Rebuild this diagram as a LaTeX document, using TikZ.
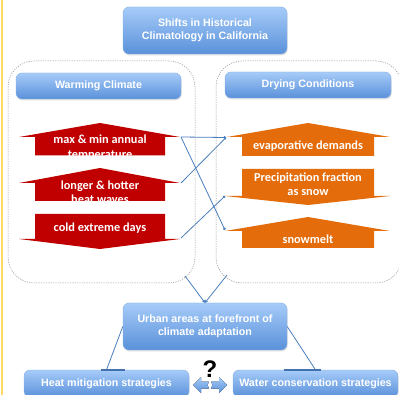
\documentclass[tikz,border=0pt]{standalone}
\usepackage{fontspec}
\setmainfont{Liberation Sans}
\newfontfamily\carl{Carlito}
\usetikzlibrary{arrows.meta,shadows}
\definecolor{boxtop}{HTML}{A6CBF8}
\definecolor{boxbot}{HTML}{5A91DA}
\definecolor{boxedge}{HTML}{86B0E8}
\definecolor{warmred}{HTML}{C00000}
\definecolor{dryorange}{HTML}{E46C0A}
\definecolor{linkblue}{HTML}{4A7EBF}
\definecolor{edgeyellow}{HTML}{FFD966}
\begin{document}
\begin{tikzpicture}[x=1pt,y=-1pt,
  bluebox/.style={rounded corners=6pt, top color=boxtop, bottom color=boxbot, draw=boxedge, line width=0.4pt,
    text=white, font=\fontsize{10.7}{13}\selectfont\bfseries, align=center, inner sep=0pt,
    drop shadow={opacity=0.25,shadow xshift=0.6pt,shadow yshift=-1.4pt}},
  container/.style={draw=gray!85, dash pattern=on 1.2pt off 1.2pt, rounded corners=26pt, line width=0.5pt, inner sep=0pt},
  arrowtext/.style={text=white, font=\carl\fontsize{12.3}{14.5}\selectfont\bfseries, align=center, inner sep=0pt},
  link/.style={draw=linkblue, line width=0.8pt},
  dotend/.style={-{Circle[length=2.6pt]}},
  bar/.style={draw=linkblue!90!black, line width=1.6pt},
]
\useasboundingbox (0,0) rectangle (399,395);
\fill[white] (0,0) rectangle (399,395);
\draw[edgeyellow, line width=2pt] (1.5,0) -- (1.5,395);

% containers
\node[container, minimum width=187pt, minimum height=222pt] (cl) at (101.5,172) {};
\node[container, minimum width=186pt, minimum height=222pt] (cr) at (309,172) {};

% boxes
\node[bluebox, minimum width=164pt, minimum height=47pt] (title) at (205,30.5) {Shifts in Historical\\Climatology in California};
\node[bluebox, minimum width=165pt, minimum height=26pt] (warm) at (98.5,86) {Warming Climate};
\node[bluebox, minimum width=166pt, minimum height=26pt] (dry) at (308,85) {Drying Conditions};
\node[bluebox, minimum width=164pt, minimum height=47pt] (urban) at (205,326.5) {Urban areas at forefront of\\climate adaptation};
\node[bluebox, minimum width=165pt, minimum height=27pt] (heat) at (106.5,383.5) {Heat mitigation strategies};
\node[bluebox, minimum width=165pt, minimum height=27pt] (water) at (315.5,383.5) {Water conservation strategies};

% red arrows
\fill[warmred] (19,137) -- (100,123) -- (180,137) -- (165,137) -- (165,155.5) -- (35,155.5) -- (35,137) -- cycle;
\node[arrowtext] (t1) at (100,147.5) {max \& min annual\\temperature};
\coordinate (r1) at (181,137);
\fill[warmred] (19,183) -- (100,168) -- (180,183) -- (165,183) -- (165,201) -- (35,201) -- (35,183) -- cycle;
\node[arrowtext] (t2) at (100,192) {longer \& hotter\\heat waves};
\coordinate (r2) at (181,183);
\fill[warmred] (35,214) -- (165,214) -- (165,239) -- (180,239) -- (100,249) -- (19,239) -- (35,239) -- cycle;
\node[arrowtext] (t3) at (100,228) {cold extreme days};
\coordinate (r3) at (181,238);

% orange arrows
\fill[dryorange] (227,137) -- (308,123) -- (390,137) -- (374,137) -- (374,156) -- (242,156) -- (242,137) -- cycle;
\node[arrowtext] (u1) at (308,146.5) {evaporative demands};
\coordinate (o1) at (226,137.5);
\fill[dryorange] (242,169) -- (374,169) -- (374,196) -- (390,196) -- (308,205) -- (225,196) -- (242,196) -- cycle;
\node[arrowtext] (u2) at (308,184) {Precipitation fraction\\as snow};
\coordinate (o2) at (225,196);
\fill[dryorange] (225,231) -- (308,217) -- (390,231) -- (374,231) -- (374,248) -- (242,248) -- (242,231) -- cycle;
\node[arrowtext] (u3) at (308,239.5) {snowmelt};
\coordinate (o3) at (225,230);

% cross links
\draw[link, dotend] (r1) -- (o1);
\draw[link, dotend] (r1) -- (o3);
\draw[link, dotend] (r2) -- (o1);
\draw[link, dotend] (r3) -- (o2);

% containers to urban
\coordinate (clb) at (185,276);
\coordinate (crb) at (227,275);
\draw[link, -{Stealth[length=3pt,width=3.5pt]}] (clb) -- (urban.north);
\draw[link, -{Stealth[length=3pt,width=3.5pt]}] (crb) -- (urban.north);

% urban to strategies
\draw[link] (urban.west) -- (heat.north);
\draw[link] (urban.east) -- (water.north);
\draw[bar] ([xshift=-5.5pt]heat.north) -- ([xshift=18.5pt]heat.north);
\draw[bar] ([xshift=-31.5pt]water.north) -- ([xshift=5.5pt]water.north);

% question and double arrow
\node[font=\fontsize{24}{24}\selectfont\bfseries, inner sep=0pt] (q) at (210,369) {?};
\fill[top color=boxtop, bottom color=boxbot] (193,385) -- (201,377) -- (201,381.5) -- (209,381.5) -- (207.5,385) -- (209,388.5) -- (201,388.5) -- (201,393) -- cycle;
\fill[top color=boxtop, bottom color=boxbot] (227,385) -- (219,377) -- (219,381.5) -- (211,381.5) -- (212.5,385) -- (211,388.5) -- (219,388.5) -- (219,393) -- cycle;
\end{tikzpicture}
\end{document}
